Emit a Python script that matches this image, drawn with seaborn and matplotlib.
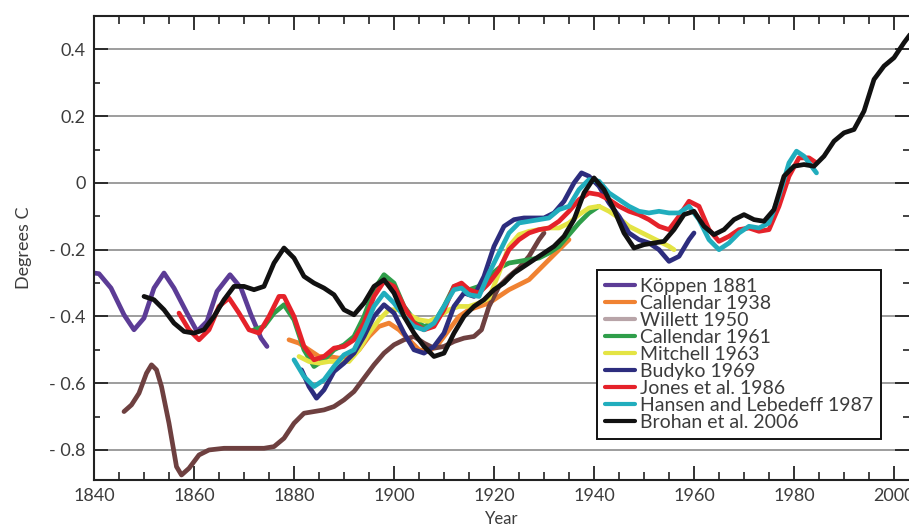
import numpy as np
import pandas as pd
import seaborn as sns
import matplotlib
matplotlib.use("Agg")
import matplotlib.pyplot as plt
from matplotlib.lines import Line2D
from matplotlib.ticker import MultipleLocator, FixedLocator, FixedFormatter

# ---------------- data ----------------
series_names = ["Köppen 1881", "Callendar 1938", "Willett 1950", "Callendar 1961",
                "Mitchell 1963", "Budyko 1969", "Jones et al. 1986",
                "Hansen and Lebedeff 1987", "Brohan et al. 2006"]

koppen_years = [1840, 1841, 1843.4, 1846, 1848, 1850, 1852, 1854, 1856, 1858.6, 1860.6,
                1862.6, 1864.6, 1867.2, 1869.4, 1871.4, 1873.4, 1874.6]
koppen_vals = [-0.27, -0.272, -0.315, -0.395, -0.44, -0.405, -0.315, -0.27, -0.315, -0.39,
               -0.445, -0.415, -0.325, -0.275, -0.315, -0.395, -0.465, -0.49]

callendar38_years = [1879, 1881, 1883, 1885, 1887, 1889, 1891, 1893, 1895, 1897, 1899, 1901,
                     1903, 1905, 1907, 1909, 1911, 1913, 1915, 1917, 1919, 1921, 1923, 1925,
                     1927, 1929, 1931, 1933, 1935]
callendar38_vals = [-0.47, -0.48, -0.50, -0.52, -0.52, -0.525, -0.52, -0.50, -0.46, -0.43,
                    -0.42, -0.44, -0.47, -0.50, -0.505, -0.48, -0.44, -0.40, -0.38, -0.37,
                    -0.36, -0.34, -0.32, -0.305, -0.29, -0.26, -0.23, -0.20, -0.17]

willett_years = [1846, 1847.5, 1849, 1850.5, 1851.5, 1852.5, 1853.5, 1855, 1856.5, 1857.5,
                 1859, 1861, 1863, 1866, 1870, 1874, 1876, 1878, 1880, 1882, 1884, 1886,
                 1888, 1890, 1892, 1894, 1896, 1898, 1900, 1902, 1904, 1906, 1908, 1910,
                 1912, 1914, 1916, 1917.5, 1919, 1921, 1923, 1925, 1927, 1929, 1930]
willett_vals = [-0.685, -0.665, -0.63, -0.57, -0.545, -0.56, -0.61, -0.72, -0.85, -0.875,
                -0.855, -0.815, -0.80, -0.795, -0.795, -0.795, -0.79, -0.765, -0.72, -0.69,
                -0.685, -0.68, -0.67, -0.65, -0.625, -0.585, -0.545, -0.51, -0.485, -0.47,
                -0.46, -0.48, -0.495, -0.49, -0.475, -0.465, -0.46, -0.44, -0.37, -0.31,
                -0.28, -0.255, -0.22, -0.17, -0.15]

callendar61_years = [1872, 1874, 1876, 1878, 1880, 1882, 1884, 1886, 1888, 1890, 1892, 1894,
                     1896, 1898, 1900, 1902, 1904, 1906, 1908, 1910, 1912, 1913.5, 1915,
                     1917, 1919, 1921, 1923, 1925, 1927, 1929, 1931, 1933, 1935, 1937, 1939,
                     1941]
callendar61_vals = [-0.44, -0.43, -0.39, -0.365, -0.41, -0.50, -0.55, -0.53, -0.50, -0.485,
                    -0.46, -0.40, -0.32, -0.275, -0.30, -0.37, -0.41, -0.43, -0.42, -0.37,
                    -0.31, -0.305, -0.32, -0.31, -0.28, -0.255, -0.24, -0.235, -0.23,
                    -0.225, -0.21, -0.19, -0.155, -0.12, -0.09, -0.07]

mitchell_years = [1881, 1883, 1885, 1887, 1889, 1891, 1893, 1895, 1897, 1899, 1901, 1903,
                  1905, 1907, 1909, 1911, 1913, 1915, 1917, 1919, 1921, 1923, 1925, 1927,
                  1929, 1931, 1933, 1935, 1937, 1939, 1941, 1943, 1945, 1947, 1949, 1951,
                  1953, 1955, 1956]
mitchell_vals = [-0.52, -0.535, -0.54, -0.535, -0.535, -0.535, -0.50, -0.45, -0.41, -0.38,
                 -0.38, -0.395, -0.41, -0.415, -0.40, -0.38, -0.37, -0.37, -0.36, -0.345,
                 -0.27, -0.19, -0.155, -0.145, -0.14, -0.135, -0.135, -0.12, -0.095, -0.075,
                 -0.07, -0.085, -0.105, -0.13, -0.145, -0.16, -0.175, -0.19, -0.20]

budyko_years = [1881.5, 1883, 1884.5, 1886, 1888, 1890, 1892, 1894, 1896, 1898, 1900, 1902,
                1904, 1906, 1908, 1910, 1912, 1914, 1916, 1918, 1920, 1922, 1924, 1926,
                1928, 1930, 1932, 1934, 1936, 1937.5, 1939, 1941, 1943, 1945, 1947, 1949,
                1951, 1953, 1955, 1957, 1959, 1960]
budyko_vals = [-0.56, -0.61, -0.645, -0.62, -0.565, -0.54, -0.51, -0.46, -0.40, -0.365,
               -0.39, -0.45, -0.50, -0.51, -0.49, -0.45, -0.37, -0.33, -0.34, -0.28, -0.19,
               -0.13, -0.11, -0.105, -0.105, -0.105, -0.09, -0.055, 0.0, 0.03, 0.02, -0.01,
               -0.06, -0.10, -0.15, -0.17, -0.18, -0.20, -0.235, -0.22, -0.17, -0.15]

jones_years = [1857, 1859, 1861, 1863, 1865, 1867, 1869, 1871, 1873, 1875, 1877, 1878,
               1880, 1882, 1884, 1886, 1888, 1890, 1892, 1894, 1896, 1898, 1900, 1902,
               1904, 1906, 1908, 1910, 1912, 1913.5, 1915, 1917, 1919, 1921, 1923, 1925,
               1927, 1929, 1931, 1933, 1935, 1937, 1939, 1941, 1943, 1945, 1947, 1949,
               1951, 1953, 1955, 1957, 1959, 1961, 1963, 1965, 1967, 1969, 1971, 1973,
               1975, 1977, 1979, 1981, 1983, 1984.5]
jones_vals = [-0.39, -0.44, -0.47, -0.44, -0.37, -0.345, -0.39, -0.44, -0.45, -0.40, -0.34,
              -0.34, -0.40, -0.49, -0.53, -0.52, -0.495, -0.49, -0.47, -0.42, -0.34, -0.295,
              -0.31, -0.37, -0.42, -0.44, -0.43, -0.38, -0.31, -0.30, -0.32, -0.33, -0.30,
              -0.26, -0.20, -0.17, -0.15, -0.14, -0.135, -0.115, -0.085, -0.05, -0.03,
              -0.035, -0.05, -0.07, -0.085, -0.095, -0.11, -0.13, -0.14, -0.10, -0.055,
              -0.07, -0.14, -0.175, -0.16, -0.14, -0.135, -0.145, -0.14, -0.07, 0.02,
              0.075, 0.075, 0.06]

hansen_years = [1880, 1882, 1884, 1886, 1888, 1890, 1892, 1894, 1896, 1898, 1900, 1902,
                1904, 1906, 1908, 1910, 1912, 1913.5, 1915, 1917, 1919, 1921, 1923, 1925,
                1927, 1929, 1931, 1933, 1935, 1937, 1939, 1941, 1943, 1945, 1947, 1949,
                1951, 1953, 1955, 1957, 1959, 1961, 1963, 1965, 1967, 1969, 1971, 1973,
                1975, 1977, 1979, 1980.5, 1982, 1984.5]
hansen_vals = [-0.53, -0.58, -0.61, -0.59, -0.55, -0.515, -0.50, -0.44, -0.37, -0.33, -0.36,
               -0.40, -0.43, -0.44, -0.42, -0.37, -0.32, -0.315, -0.335, -0.34, -0.27,
               -0.21, -0.15, -0.12, -0.115, -0.11, -0.105, -0.08, -0.07, -0.02, 0.01,
               0.005, -0.03, -0.05, -0.07, -0.085, -0.09, -0.085, -0.09, -0.09, -0.07,
               -0.11, -0.17, -0.20, -0.18, -0.15, -0.13, -0.135, -0.12, -0.04, 0.06,
               0.095, 0.08, 0.03]

brohan_years = [1850, 1852, 1854, 1856, 1858, 1860, 1862, 1864, 1866, 1868, 1870, 1872,
                1874, 1876, 1878, 1880, 1882, 1884, 1886, 1888, 1890, 1892, 1894, 1896,
                1898, 1900, 1902, 1904, 1906, 1908, 1910, 1912, 1914, 1916, 1918, 1920,
                1922, 1924, 1926, 1928, 1930, 1932, 1934, 1936, 1938, 1940, 1942, 1944,
                1946, 1948, 1950, 1952, 1954, 1956, 1958, 1960, 1962, 1964, 1966, 1968,
                1970, 1972, 1974, 1976, 1978, 1980, 1982, 1984, 1986, 1988, 1990, 1992,
                1994, 1996, 1998, 2000, 2002, 2003.5]
brohan_vals = [-0.34, -0.35, -0.38, -0.42, -0.445, -0.45, -0.44, -0.40, -0.35, -0.31,
               -0.31, -0.32, -0.31, -0.24, -0.195, -0.225, -0.28, -0.30, -0.315, -0.335,
               -0.38, -0.395, -0.36, -0.31, -0.29, -0.33, -0.40, -0.45, -0.49, -0.52,
               -0.51, -0.45, -0.40, -0.37, -0.35, -0.32, -0.30, -0.27, -0.25, -0.23,
               -0.21, -0.19, -0.16, -0.11, -0.03, 0.015, -0.02, -0.08, -0.15, -0.195,
               -0.185, -0.18, -0.175, -0.14, -0.095, -0.085, -0.13, -0.155, -0.14, -0.11,
               -0.095, -0.11, -0.115, -0.08, 0.02, 0.05, 0.055, 0.05, 0.08, 0.125, 0.15,
               0.16, 0.215, 0.31, 0.35, 0.375, 0.42, 0.45]

line_colors = ["#5c3c96", "#f08232", "#6e4040", "#2f9e4a", "#e4e444", "#2d2d7e",
               "#e5222a", "#21adbd", "#111111"]
legend_colors = ["#5c3c96", "#f08232", "#b8a4a8", "#2f9e4a", "#e4e444", "#2d2d7e",
                 "#e5222a", "#21adbd", "#111111"]

ytick_values = [-0.8, -0.6, -0.4, -0.2, 0.0, 0.2, 0.4]
ytick_labels = ["- 0.8", "- 0.6", "- 0.4", "- 0.2", "0", "0.2", "0.4"]
xtick_values = [1840, 1860, 1880, 1900, 1920, 1940, 1960, 1980, 2000]
xtick_labels = ["1840", "1860", "1880", "1900", "1920", "1940", "1960", "1980", "2000"]

# ---------------- build long table ----------------
all_years = [koppen_years, callendar38_years, willett_years, callendar61_years,
             mitchell_years, budyko_years, jones_years, hansen_years, brohan_years]
all_vals = [koppen_vals, callendar38_vals, willett_vals, callendar61_vals,
            mitchell_vals, budyko_vals, jones_vals, hansen_vals, brohan_vals]
frames = []
for name, yrs, vals in zip(series_names, all_years, all_vals):
    frames.append(pd.DataFrame({"Year": yrs, "Degrees C": vals, "series": name}))
df = pd.concat(frames, ignore_index=True)

# ---------------- plot ----------------
sns.set_theme(style="white")
plt.rcParams["font.family"] = ["Lato", "DejaVu Sans"]
text_color = "#3c3c3c"

fig = plt.figure(figsize=(9.09, 5.27), dpi=100)
ax = fig.add_axes([94 / 909, 47 / 527, 815 / 909, 464 / 527])

for name, col in zip(series_names, line_colors):
    sub = df[df["series"] == name]
    sns.lineplot(data=sub, x="Year", y="Degrees C", color=col, lw=3.4,
                 estimator=None, sort=True, legend=False, ax=ax,
                 solid_capstyle="round", solid_joinstyle="round")

ax.set_xlim(1840, 2003)
ax.set_ylim(-0.89, 0.50)

ax.xaxis.set_major_locator(FixedLocator(xtick_values))
ax.xaxis.set_major_formatter(FixedFormatter(xtick_labels))
ax.xaxis.set_minor_locator(MultipleLocator(5))
ax.yaxis.set_major_locator(FixedLocator(ytick_values))
ax.yaxis.set_major_formatter(FixedFormatter(ytick_labels))
ax.yaxis.set_minor_locator(MultipleLocator(0.1))

ax.tick_params(axis="both", which="major", direction="in", length=10, width=1.3,
               color="#222222", labelsize=13, labelcolor=text_color, pad=6,
               top=True, right=True, bottom=True, left=True)
ax.tick_params(axis="x", which="minor", direction="in", length=5.5, width=1.2,
               color="#222222", top=True, bottom=True)
ax.tick_params(axis="y", which="minor", direction="in", length=4, width=1.2,
               color="#222222", left=True, right=True)

ax.grid(axis="y", which="major", color="#8c8c8c", lw=1.2)
ax.grid(axis="x", visible=False)
ax.set_axisbelow(True)

for side in ["left", "top", "bottom"]:
    ax.spines[side].set_visible(True)
    ax.spines[side].set_color("#222222")
    ax.spines[side].set_linewidth(1.5)
ax.spines["right"].set_visible(False)

ax.set_xlabel("Year", fontsize=12, color=text_color, labelpad=5)
ax.set_ylabel("Degrees C", fontsize=13, color=text_color, labelpad=12)

handles = [Line2D([0], [0], color=c, lw=3) for c in legend_colors]
leg = ax.legend(handles, series_names, loc="upper left",
                bbox_to_anchor=(597 / 909, 1 - 270 / 527),
                bbox_transform=fig.transFigure, borderaxespad=0,
                frameon=True, fancybox=False, shadow=False, fontsize=14,
                labelspacing=0.0, handlelength=1.55, handletextpad=0.25,
                borderpad=0.42, labelcolor=text_color)
leg.get_frame().set_edgecolor("#111111")
leg.get_frame().set_linewidth(1.4)
leg.get_frame().set_facecolor("white")
leg.get_frame().set_alpha(1)

fig.savefig("out.png", dpi=100)
